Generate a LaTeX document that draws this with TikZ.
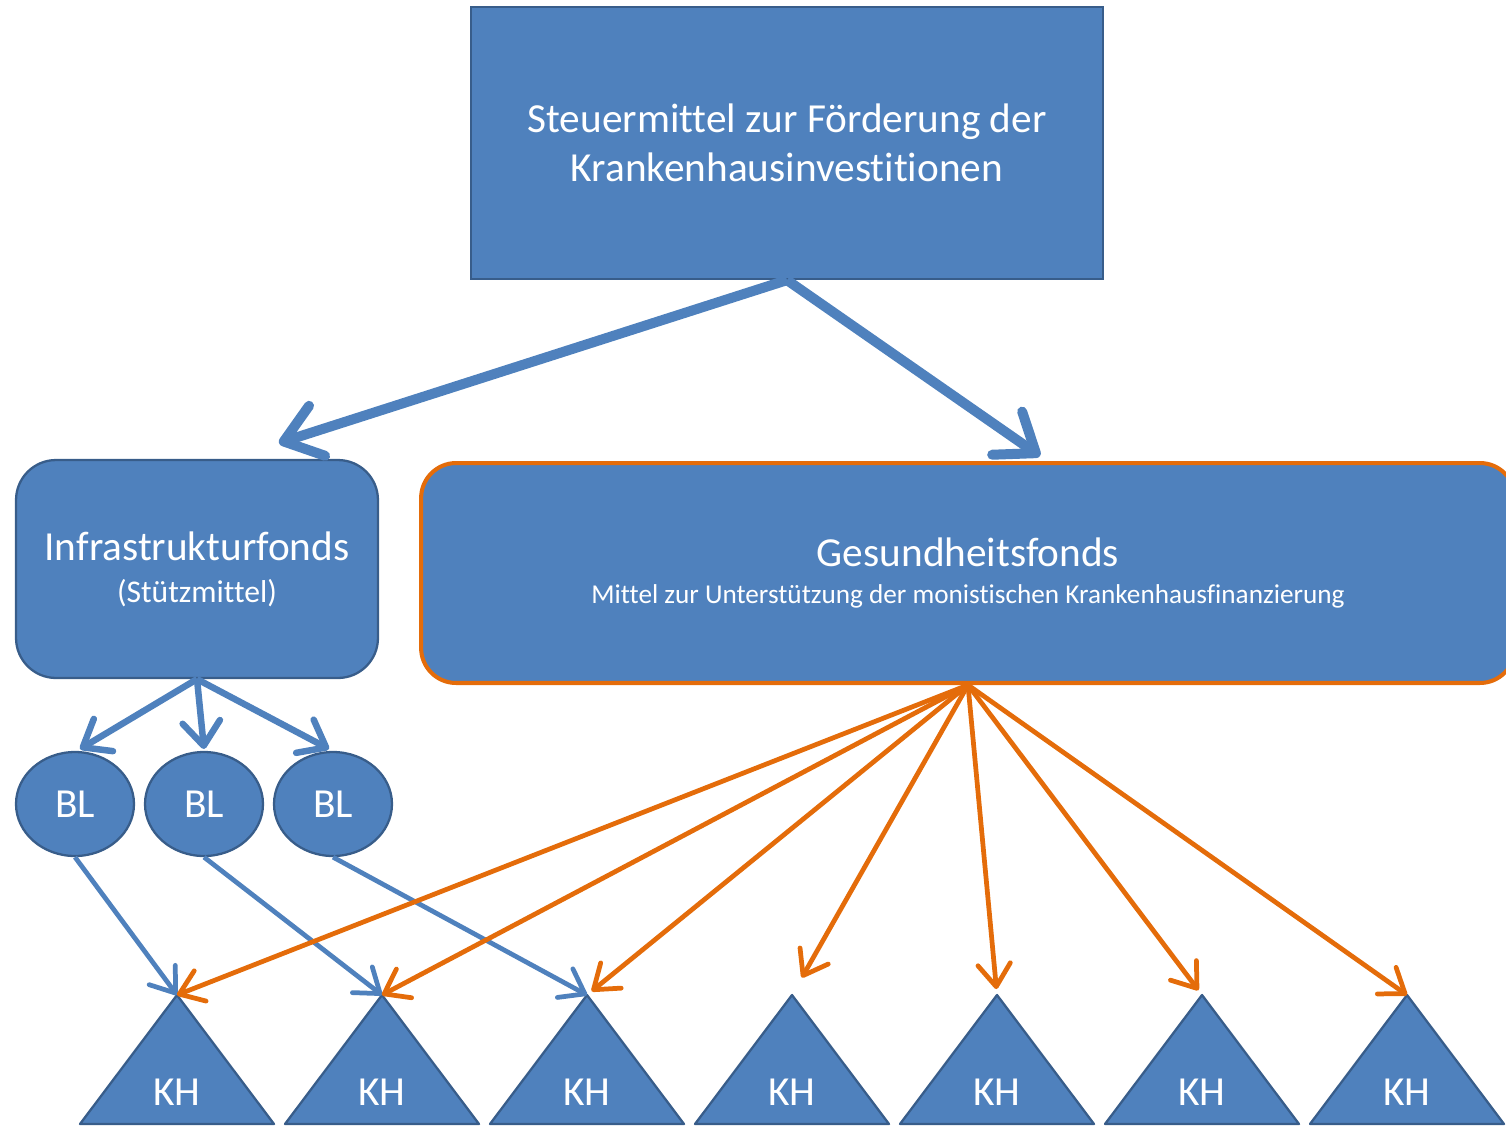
\documentclass[tikz,border=0pt]{standalone}
\usepackage{fontspec}
\setmainfont{Carlito}[Ligatures=NoCommon]
\usetikzlibrary{arrows.meta,shapes.geometric}
\definecolor{boxblue}{RGB}{79,129,189}
\definecolor{edgeblue}{RGB}{56,93,138}
\definecolor{fondorange}{RGB}{228,108,10}

\begin{document}
\begin{tikzpicture}[x=0.02cm,y=-0.02cm,
    box/.style={draw=edgeblue, fill=boxblue, line width=1.3pt, text=white, align=center},
    bigarrow/.style={boxblue, line width=0.2cm, -{Straight Barb[round,length=0.7cm,width=1.05cm]}},
    midarrow/.style={boxblue, line width=0.13cm, -{Straight Barb[round,length=0.48cm,width=0.75cm]}},
    bluearrow/.style={boxblue, line width=0.095cm, -{Straight Barb[round,length=0.45cm,width=0.65cm]}},
    orangearrow/.style={fondorange, line width=0.095cm, -{Straight Barb[round,length=0.45cm,width=0.65cm]}},
    khtri/.style={draw=edgeblue, fill=boxblue, line width=1.3pt, line join=round}]
    \useasboundingbox (0,0) rectangle (1506,1126);
    % Kaesten
    \node[box, minimum width=12.64cm, minimum height=5.44cm, font=\fontsize{23.5}{28}\selectfont] (steuer) at (787,143) {Steuermittel zur Förderung der\\Krankenhausinvestitionen};
    \node[box, rounded corners=0.8cm, minimum width=7.24cm, minimum height=4.36cm, font=\fontsize{23.5}{24}\selectfont] (infra) at (197,569) {Infrastrukturfonds\\{\fontsize{18}{20}\selectfont (Stützmittel)}};
    \node[box, draw=fondorange, line width=2.3pt, rounded corners=0.7cm, minimum width=21.88cm, minimum height=4.4cm, font=\fontsize{23.5}{24}\selectfont] (gesund) at (968,573) {Gesundheitsfonds\\[-3pt]{\fontsize{15.5}{18}\selectfont Mittel zur Unterstützung der monistischen Krankenhausfinanzierung}};
    % Bundeslaender
    \node[box, ellipse, minimum width=2.36cm, minimum height=2.08cm, font=\fontsize{23.5}{24}\selectfont] (bl1) at (75,804) {BL};
    \node[box, ellipse, minimum width=2.36cm, minimum height=2.08cm, font=\fontsize{23.5}{24}\selectfont] (bl2) at (204,804) {BL};
    \node[box, ellipse, minimum width=2.36cm, minimum height=2.08cm, font=\fontsize{23.5}{24}\selectfont] (bl3) at (333,804) {BL};
    % Krankenhaeuser
    \foreach \i in {1,...,7}{
        \coordinate (kh\i) at ({177+205*(\i-1)},995);
        \draw[khtri] (kh\i) -- ++(97,129) -- ++(-194,0) -- cycle;
        \node[text=white, font=\fontsize{23.5}{24}\selectfont] (khtext\i) at ({177+205*(\i-1)},1092) {KH};
    }
    \coordinate (infrain) at (279,443);
    \coordinate (gesundin) at (1040,456);
    \coordinate (blin1) at (80,749);
    \coordinate (blin2) at (204,749);
    \coordinate (blin3) at (329,749);
    % Pfeile
    \draw[bigarrow] (steuer.south) -- (infrain);
    \draw[bigarrow] (steuer.south) -- (gesundin);
    \foreach \i in {1,2,3}
        \draw[midarrow] (infra.south) -- (blin\i);
    \draw[bluearrow] (bl1.south) -- (kh1);
    \draw[bluearrow] (bl2.south) -- (kh2);
    \draw[bluearrow] (bl3.south) -- (kh3);
    \foreach \i/\s in {1/0,2/0,3/0.12,4/0.4,5/0.12,6/0.12,7/0}
        \draw[orangearrow, shorten >=\s cm] (gesund.south) -- (kh\i);
\end{tikzpicture}
\end{document}
